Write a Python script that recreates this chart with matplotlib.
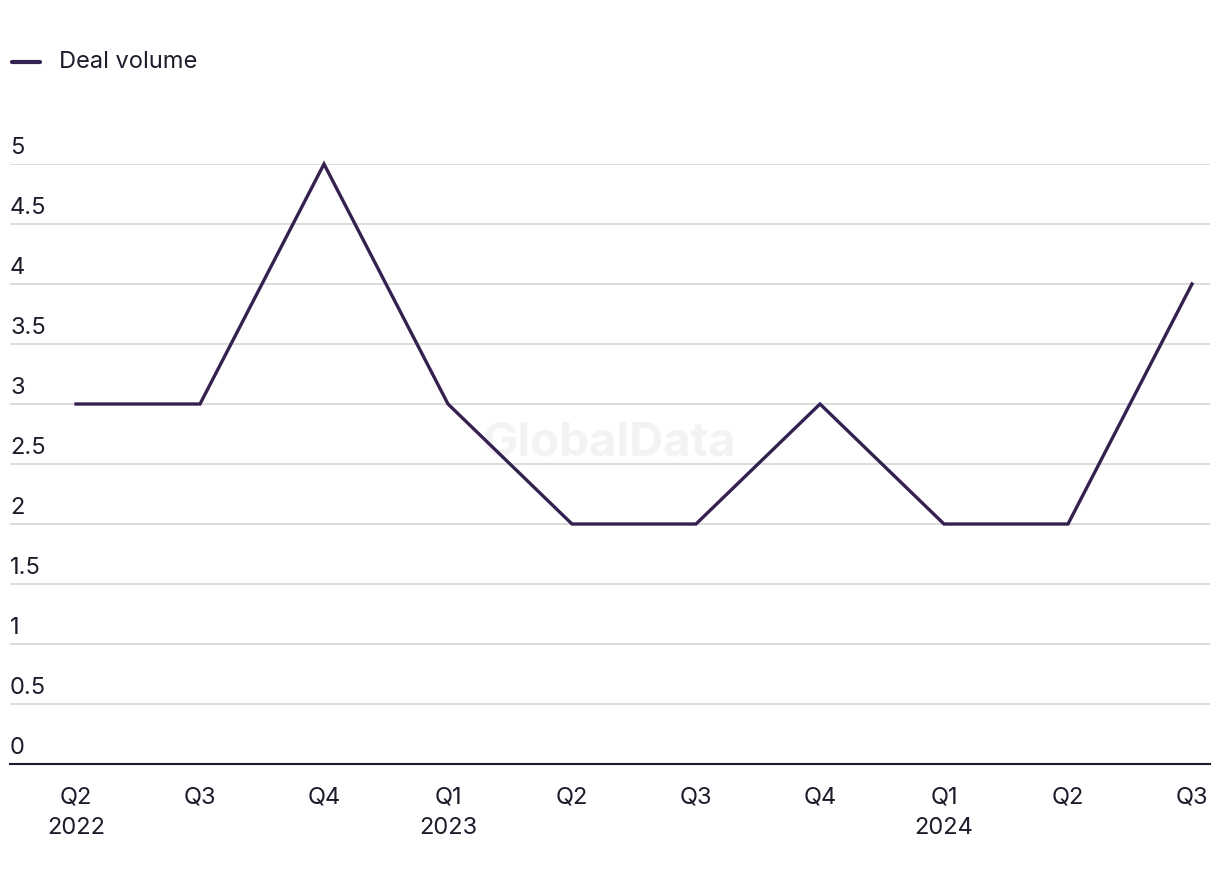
import numpy as np
import matplotlib.pyplot as plt
from matplotlib.transforms import offset_copy

# quarterly deal volume
quarters = ['Q2\n2022', 'Q3', 'Q4', 'Q1\n2023', 'Q2', 'Q3', 'Q4', 'Q1\n2024', 'Q2', 'Q3']
deal_volume = [3, 3, 5, 3, 2, 2, 3, 2, 2, 4]
yticks = [0, 0.5, 1, 1.5, 2, 2.5, 3, 3.5, 4, 4.5, 5]

plt.rcParams['font.family'] = ['Inter', 'DejaVu Sans']
txt_color = '#1c1c2b'
line_color = '#35214f'

fig = plt.figure(figsize=(12.2, 8.84), dpi=100)
W, H = 1220, 884
# axes from y=164 (value 5) to y=764 (value 0), x from 10 to 1210
ax = fig.add_axes([10 / W, (H - 764) / H, 1200 / W, 600 / H])

x = np.arange(len(quarters))
ax.plot(x, deal_volume, color=line_color, lw=2.4, clip_on=False, zorder=3,
        solid_joinstyle='miter')

ax.set_ylim(0, 5)
ax.set_xlim(-66 / 124, 9 + 18 / 124)

for s in ['top', 'right', 'left']:
    ax.spines[s].set_visible(False)
ax.spines['bottom'].set_color(txt_color)
ax.spines['bottom'].set_linewidth(1.5)

ax.set_yticks(yticks)
ax.set_yticklabels([])
ax.tick_params(axis='y', length=0)
ax.grid(axis='y', color='#d6d6d6', lw=1.2)
ax.set_axisbelow(True)
# y labels sit just above their gridline
ylab_tr = offset_copy(ax.get_yaxis_transform(), fig=fig, x=0, y=3.5, units='points')
for t in yticks:
    ax.text(0.0, t, '%g' % t, transform=ylab_tr, ha='left',
            va='bottom', fontsize=17, color=txt_color)

ax.set_xticks(x)
ax.set_xticklabels(quarters, fontsize=17, color=txt_color, linespacing=1.5)
ax.tick_params(axis='x', length=0, pad=16)

# watermark
ax.text(0.5, 0.535, 'GlobalData', transform=ax.transAxes, ha='center',
        va='center', fontsize=34, fontweight='bold', color='#f3f3f3', zorder=1)

# legend
fig.add_artist(plt.Line2D([12 / W, 40 / W], [(H - 62) / H] * 2, color=line_color,
                          lw=3, solid_capstyle='round'))
fig.text(59 / W, (H - 62) / H, 'Deal volume', ha='left', va='center',
         fontsize=17, color=txt_color)

fig.savefig('out.png', dpi=100)
